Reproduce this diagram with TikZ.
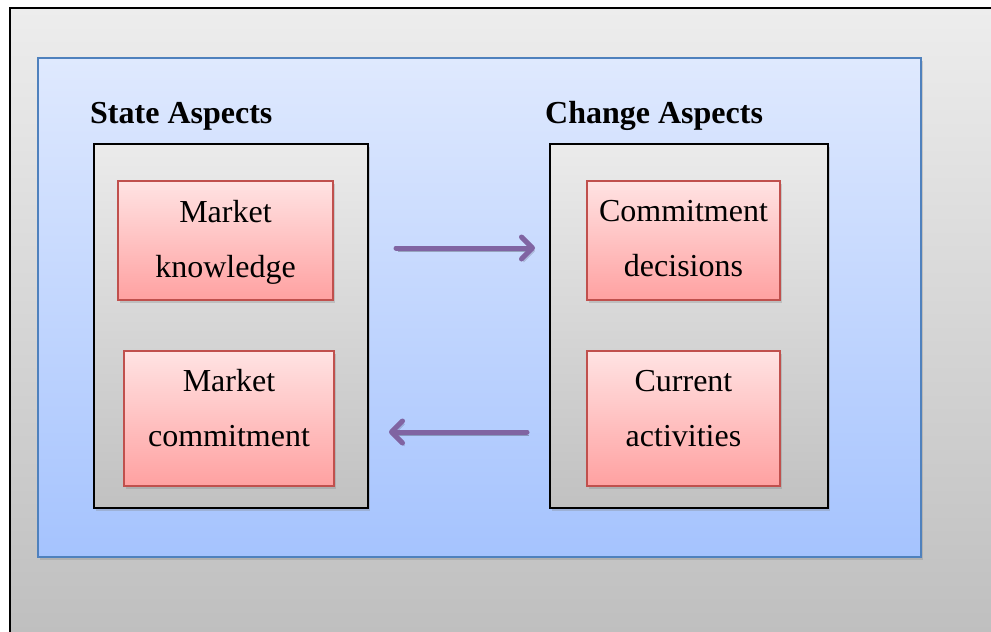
\documentclass[tikz,border=0pt]{standalone}
\usepackage{fontspec}
\setmainfont{Liberation Serif}
\usetikzlibrary{arrows.meta,shadows}

\definecolor{outertop}{HTML}{EDEDED}
\definecolor{outerbot}{HTML}{BDBDBD}
\definecolor{bluetop}{HTML}{DFE9FE}
\definecolor{bluebot}{HTML}{A5C3FE}
\definecolor{blueline}{HTML}{4F81BD}
\definecolor{greytop}{HTML}{EBEBEB}
\definecolor{greybot}{HTML}{C1C1C1}
\definecolor{pinktop}{HTML}{FFE3E3}
\definecolor{pinkbot}{HTML}{FFA1A1}
\definecolor{pinkline}{HTML}{C0504D}
\definecolor{flowpurple}{HTML}{8064A2}

\begin{document}
\begin{tikzpicture}[x=1pt,y=-1pt,
    shadowed/.style={drop shadow={shadow xshift=2pt,shadow yshift=-3pt,opacity=.3}},
    aspect/.style={draw=black,line width=1.5pt,top color=greytop,bottom color=greybot,
        shadowed,minimum height=364pt},
    item/.style={draw=pinkline,line width=2pt,top color=pinktop,bottom color=pinkbot,
        shadowed,inner sep=0pt},
    itemtext/.style={align=center,font=\fontsize{32}{55}\selectfont,inner sep=0pt},
    heading/.style={font=\fontsize{32}{38}\selectfont\bfseries,inner sep=0pt,anchor=base west},
    flow/.style={draw=flowpurple,line width=5pt,line cap=round,
        -{Straight Barb[length=11pt,width=22pt,round]},
        preaction={draw=black,opacity=.25,transform canvas={shift={(2pt,-3pt)}}}}]
    \useasboundingbox (0,0) rectangle (991,632);
    \clip (0,0) rectangle (991,632);

    % Background
    \draw[line width=1.5pt,top color=outertop,bottom color=outerbot] (10,8) rectangle (1010,660);
    \draw[line width=2pt,draw=blueline,top color=bluetop,bottom color=bluebot,shadowed]
        (38,58) rectangle (921,557);

    % State aspects
    \node[heading] (statetitle) at (90,123) {State Aspects};
    \node[aspect,minimum width=274pt] (state) at (231,326) {};
    \node[item,minimum width=215pt,minimum height=119pt] (mk) at (225.5,240.5) {};
    \node[itemtext] (mktext) at ([yshift=-1.5pt]mk.center) {Market\\knowledge};
    \node[item,minimum width=210pt,minimum height=135pt] (mc) at (229,418.5) {};
    \node[itemtext] (mctext) at ([yshift=10pt]mc.center) {Market\\commitment};

    % Change aspects
    \node[heading] (changetitle) at (545,123) {Change Aspects};
    \node[aspect,minimum width=278pt] (change) at (689,326) {};
    \node[item,minimum width=193pt,minimum height=119pt] (cd) at (683.5,240.5) {};
    \node[itemtext] (cdtext) at ([yshift=2pt]cd.center) {Commitment\\decisions};
    \node[item,minimum width=193pt,minimum height=135pt] (ca) at (683.5,418.5) {};
    \node[itemtext] (catext) at ([yshift=10pt]ca.center) {Current\\activities};

    % Arrows
    \coordinate (fwdstart) at (396,248);
    \coordinate (fwdend) at (535,248);
    \draw[flow] (fwdstart) -- (fwdend);

    \coordinate (backstart) at (527,432);
    \coordinate (backend) at (389,432);
    \draw[flow] (backstart) -- (backend);
\end{tikzpicture}
\end{document}
